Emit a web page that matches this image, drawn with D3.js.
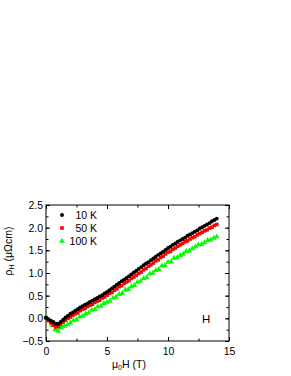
<!DOCTYPE html>
<html><head><meta charset="utf-8">
<script src="https://cdn.jsdelivr.net/npm/d3@7"></script>
<style>body{margin:0;background:#fff}svg{display:block}text{font-family:"Liberation Sans",Arial,sans-serif}</style>
</head><body><svg id="c" width="291" height="376"></svg>
<script>
const seriesNames = ["10 K", "50 K", "100 K"];
const xTicks = [0, 5, 10, 15];
const yTicks = [-0.5, 0.0, 0.5, 1.0, 1.5, 2.0, 2.5];
const xA = [0,0.2,0.4,0.6,0.8,1,1.2,1.4,1.6,1.8,2,2.2,2.4,2.6,2.8,3,3.2,3.4,3.6,3.8,4,4.2,4.4,4.6,4.8,5,5.2,5.4,5.6,5.8,6,6.2,6.4,6.6,6.8,7,7.2,7.4,7.6,7.8,8,8.2,8.4,8.6,8.8,9,9.2,9.4,9.6,9.8,10,10.2,10.4,10.6,10.8,11,11.2,11.4,11.6,11.8,12,12.2,12.4,12.6,12.8,13,13.2,13.4,13.6,13.8,14];
const y10K = [0.02,-0.02,-0.05,-0.08,-0.12,-0.12,-0.08,-0.03,0.02,0.06,0.10,0.13,0.17,0.20,0.24,0.27,0.30,0.33,0.36,0.39,0.42,0.45,0.48,0.51,0.55,0.58,0.62,0.66,0.70,0.74,0.78,0.82,0.85,0.89,0.93,0.97,1.01,1.05,1.09,1.13,1.17,1.21,1.24,1.28,1.32,1.36,1.40,1.43,1.47,1.51,1.55,1.58,1.62,1.65,1.69,1.72,1.75,1.78,1.82,1.85,1.88,1.91,1.94,1.98,2.01,2.04,2.07,2.10,2.14,2.17,2.20];
const y50K = [0.00,-0.05,-0.10,-0.15,-0.19,-0.18,-0.13,-0.08,-0.04,0.00,0.03,0.07,0.10,0.12,0.17,0.20,0.22,0.26,0.29,0.31,0.35,0.38,0.40,0.45,0.47,0.51,0.55,0.57,0.62,0.65,0.70,0.72,0.77,0.80,0.83,0.88,0.91,0.95,0.99,1.02,1.07,1.10,1.15,1.18,1.22,1.27,1.29,1.34,1.37,1.42,1.46,1.48,1.52,1.55,1.59,1.62,1.65,1.69,1.71,1.75,1.78,1.80,1.84,1.87,1.90,1.93,1.95,1.99,2.01,2.05,2.07];
const xB = [0,0.25,0.5,0.75,1,1.25,1.5,1.75,2,2.25,2.5,2.75,3,3.25,3.5,3.75,4,4.25,4.5,4.75,5,5.25,5.5,5.75,6,6.25,6.5,6.75,7,7.25,7.5,7.75,8,8.25,8.5,8.75,9,9.25,9.5,9.75,10,10.25,10.5,10.75,11,11.25,11.5,11.75,12,12.25,12.5,12.75,13,13.25,13.5,13.75,14];
const y100K = [0.04,-0.05,-0.15,-0.25,-0.28,-0.21,-0.17,-0.14,-0.10,-0.05,-0.03,0.03,0.05,0.10,0.12,0.18,0.20,0.26,0.27,0.33,0.36,0.38,0.45,0.47,0.53,0.55,0.63,0.64,0.70,0.73,0.80,0.82,0.88,0.90,0.98,1.00,1.06,1.08,1.16,1.17,1.24,1.25,1.33,1.34,1.39,1.42,1.48,1.49,1.54,1.58,1.62,1.63,1.67,1.72,1.73,1.77,1.80];

const svg = d3.select("#c");
const L = 46, R = 229, T = 205, B = 341;
const x = d3.scaleLinear().domain([0, 15]).range([L, R]);
const y = d3.scaleLinear().domain([-0.5, 2.5]).range([B, T]);
const fs = 10.5;

svg.append("rect").attr("x", L).attr("y", T).attr("width", R - L).attr("height", B - T)
  .attr("fill", "none").attr("stroke", "#000").attr("stroke-width", 1);

const xMinor = d3.range(0, 15.01, 2.5);
const yMinor = d3.range(-0.5, 2.51, 0.25);
function styleAxis(g){ g.select(".domain").remove(); g.selectAll("line").attr("stroke","#000"); g.selectAll("text").attr("font-size", fs).attr("fill","#000"); }

svg.append("g").attr("transform", `translate(0,${B})`)
  .call(d3.axisBottom(x).tickValues(xMinor).tickSize(-2.5).tickFormat(""))
  .call(styleAxis);
svg.append("g").attr("transform", `translate(0,${B})`)
  .call(d3.axisBottom(x).tickValues(xTicks).tickSize(-4).tickPadding(7).tickFormat(d3.format("d")))
  .call(styleAxis);
svg.append("g").attr("transform", `translate(0,${T})`)
  .call(d3.axisTop(x).tickValues(xMinor).tickSize(-2.5).tickFormat(""))
  .call(styleAxis);
svg.append("g").attr("transform", `translate(0,${T})`)
  .call(d3.axisTop(x).tickValues(xTicks).tickSize(-4).tickFormat(""))
  .call(styleAxis);
svg.append("g").attr("transform", `translate(${L},0)`)
  .call(d3.axisLeft(y).tickValues(yMinor).tickSize(-2.5).tickFormat(""))
  .call(styleAxis);
svg.append("g").attr("transform", `translate(${L},0)`)
  .call(d3.axisLeft(y).tickValues(yTicks).tickSize(-4).tickPadding(3).tickFormat(d3.format(".1f")))
  .call(styleAxis);
svg.append("g").attr("transform", `translate(${R},0)`)
  .call(d3.axisRight(y).tickValues(yMinor).tickSize(-2.5).tickFormat(""))
  .call(styleAxis);
svg.append("g").attr("transform", `translate(${R},0)`)
  .call(d3.axisRight(y).tickValues(yTicks).tickSize(-4).tickFormat(""))
  .call(styleAxis);

const plot = svg.append("g");
const d10 = xA.map((v,i)=>[v, y10K[i]]);
const d50 = xA.map((v,i)=>[v, y50K[i]]);
const d100 = xB.map((v,i)=>[v, y100K[i]]);
const tri = d3.symbol().type(d3.symbolTriangle).size(14);
const sq = d3.symbol().type(d3.symbolSquare).size(13);
const circ = d3.symbol().type(d3.symbolCircle).size(12);

plot.selectAll(".g").data(d100).join("path").attr("d", tri)
  .attr("transform", d=>`translate(${x(d[0])},${y(d[1])})`).attr("fill", "#00ff00");
plot.selectAll(".r").data(d50).join("path").attr("d", sq)
  .attr("transform", d=>`translate(${x(d[0])},${y(d[1])})`).attr("fill", "#ff0000");
plot.selectAll(".k").data(d10).join("path").attr("d", circ)
  .attr("transform", d=>`translate(${x(d[0])},${y(d[1])})`).attr("fill", "#000");

const legY = [215, 228, 241];
const legSym = [circ, sq, tri];
const legCol = ["#000", "#ff0000", "#00ff00"];
seriesNames.forEach((n,i)=>{
  svg.append("path").attr("d", legSym[i]).attr("transform", `translate(62,${legY[i]})`).attr("fill", legCol[i]);
  svg.append("text").attr("x", 97).attr("y", legY[i] + 4).attr("text-anchor", "end")
    .attr("font-size", fs).text(n);
});

svg.append("text").attr("x", 202).attr("y", 323).attr("font-size", 11.5).text("H");

const xt = svg.append("text").attr("x", 112).attr("y", 368).attr("font-size", fs);
xt.append("tspan").text("μ");
xt.append("tspan").attr("font-size", 7).attr("dy", 2).text("0");
xt.append("tspan").attr("dy", -2).text("H  (T)");

const yt = svg.append("text").attr("transform", "translate(12,251) rotate(-90)").attr("text-anchor", "middle").attr("font-size", fs);
yt.append("tspan").text("ρ");
yt.append("tspan").attr("font-size", 7).attr("dy", 2).text("H");
yt.append("tspan").attr("dy", -2).text(" (μΩcm)");
</script></body></html>
